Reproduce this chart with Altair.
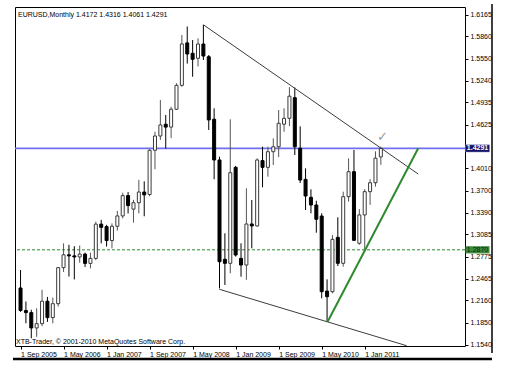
import altair as alt
import pandas as pd

# Monthly EURUSD candles, Sep 2005 .. Apr 2011 (bar index 0..67)
opens = [1.2335, 1.2020, 1.1990, 1.1775, 1.1835, 1.2150, 1.1920, 1.2115, 1.2620, 1.2800,
         1.2785, 1.2770, 1.2810, 1.2680, 1.2750, 1.3230, 1.3195, 1.3000, 1.3200, 1.3345,
         1.3630, 1.3440, 1.3530, 1.3680, 1.3645, 1.4265, 1.4465, 1.4630, 1.4590, 1.4840,
         1.5175, 1.5770, 1.5624, 1.5554, 1.5754, 1.5576, 1.4700, 1.4129, 1.2737, 1.2681,
         1.4026, 1.2750, 1.2657, 1.3232, 1.3204, 1.4120, 1.4026, 1.4245, 1.4315, 1.4630,
         1.4713, 1.5002, 1.4293, 1.3858, 1.3606, 1.3498, 1.3343, 1.2292, 1.2283, 1.3045,
         1.2681, 1.3615, 1.3965, 1.2962, 1.3359, 1.3685, 1.3810, 1.4172]
highs = [1.2587, 1.2145, 1.2030, 1.2050, 1.2310, 1.2210, 1.2200, 1.2630, 1.2960, 1.2940,
         1.2920, 1.2930, 1.2830, 1.2830, 1.3265, 1.3290, 1.3220, 1.3240, 1.3415, 1.3670,
         1.3680, 1.3570, 1.3850, 1.3830, 1.4280, 1.4525, 1.4970, 1.4760, 1.4875, 1.5205,
         1.5880, 1.6000, 1.5810, 1.5834, 1.6025, 1.5600, 1.4853, 1.4175, 1.3101, 1.4699,
         1.4045, 1.2961, 1.3732, 1.3568, 1.4152, 1.4315, 1.4315, 1.4432, 1.4829, 1.4853,
         1.5150, 1.5145, 1.4600, 1.4012, 1.3718, 1.3558, 1.3382, 1.2456, 1.3078, 1.3326,
         1.3685, 1.4152, 1.4269, 1.3440, 1.3720, 1.3860, 1.4250, 1.4316]
lows = [1.2000, 1.1840, 1.1630, 1.1650, 1.1800, 1.1860, 1.1840, 1.2075, 1.2560, 1.2495,
        1.2455, 1.2690, 1.2630, 1.2610, 1.2725, 1.2960, 1.2915, 1.2890, 1.3140, 1.3310,
        1.3380, 1.3250, 1.3380, 1.3340, 1.3620, 1.4000, 1.4410, 1.4290, 1.4435, 1.4830,
        1.5155, 1.5480, 1.5296, 1.5440, 1.5530, 1.4549, 1.3858, 1.2330, 1.2377, 1.2541,
        1.2775, 1.2493, 1.2450, 1.2891, 1.3194, 1.3746, 1.3895, 1.4059, 1.4170, 1.4525,
        1.4605, 1.4199, 1.3806, 1.3428, 1.3382, 1.3110, 1.2190, 1.1862, 1.2260, 1.2643,
        1.2634, 1.3545, 1.2994, 1.2940, 1.2870, 1.3500, 1.3755, 1.4061]
closes = [1.2020, 1.1990, 1.1775, 1.1835, 1.2150, 1.1920, 1.2115, 1.2620, 1.2800, 1.2785,
          1.2770, 1.2810, 1.2680, 1.2750, 1.3230, 1.3185, 1.3000, 1.3200, 1.3345, 1.3630,
          1.3490, 1.3530, 1.3680, 1.3640, 1.4265, 1.4465, 1.4620, 1.4590, 1.4840, 1.5175,
          1.5755, 1.5614, 1.5540, 1.5754, 1.5586, 1.4690, 1.4129, 1.2703, 1.2681, 1.3951,
          1.2797, 1.2657, 1.3232, 1.3204, 1.4129, 1.4026, 1.4245, 1.4315, 1.4643, 1.4713,
          1.5023, 1.4315, 1.3848, 1.3624, 1.3498, 1.3298, 1.2283, 1.2213, 1.3017, 1.2681,
          1.3615, 1.3965, 1.3003, 1.3359, 1.3685, 1.3810, 1.4155, 1.4291]

tick_pos = [0, 8, 16, 24, 32, 40, 48, 56, 64]
tick_labels = ["1 Sep 2005", "1 May 2006", "1 Jan 2007", "1 Sep 2007", "1 May 2008",
               "1 Jan 2009", "1 Sep 2009", "1 May 2010", "1 Jan 2011"]
price_ticks = [1.6165, 1.5860, 1.5550, 1.5240, 1.4935, 1.4625, 1.4010, 1.3700,
               1.3390, 1.3085, 1.2775, 1.2465, 1.2160, 1.1850, 1.1540]

blue_level = 1.4291
green_level = 1.2870

# drawn objects: [bar1, price1, bar2, price2]
upper_line = [34.05, 1.6021, 73.95, 1.3932]
lower_line = [36.96, 1.2317, 71.8, 1.1526]
green_line = [57.1, 1.1862, 73.95, 1.4293]
check_pos = [67.3, 1.4450]

title_text = "EURUSD,Monthly  1.4172 1.4316 1.4061 1.4291"
footer_text = "XTB-Trader, \u00a9 2001-2010 MetaQuotes Software Corp."

FONT = "Liberation Sans"
W, H = 450, 339

df = pd.DataFrame({"i": list(range(len(opens))), "open": opens, "high": highs,
                   "low": lows, "close": closes})
df["bull"] = df["close"] >= df["open"]
df["fill"] = df["bull"].map({True: "#ffffff", False: "#000000"})
df["stroke"] = df["bull"].map({True: "#3a3a3a", False: "#000000"})
df["wick"] = df["bull"].map({True: "#555555", False: "#000000"})

xscale = alt.Scale(domain=[-0.1, -0.1 + W / 5.5], nice=False, zero=False)
yscale = alt.Scale(domain=[1.1522, 1.6273], nice=False, zero=False)

label_expr = " : ".join(f"datum.value == {p} ? '{l}'" for p, l in zip(tick_pos, tick_labels)) + " : ''"

xaxis = alt.Axis(values=tick_pos, labelExpr=label_expr, labelAlign="left", labelBaseline="top",
                 labelPadding=1, tickSize=3, labelFont=FONT, labelFontSize=7, labelColor="black",
                 domain=False, grid=False, title="", tickColor="black", labelOverlap=False)
yaxis = alt.Axis(orient="right", values=price_ticks, format=".4f", labelFont=FONT, labelFontSize=7,
                 labelColor="black", tickSize=3, labelPadding=2, domain=False, grid=False,
                 title="", tickColor="black", labelOverlap=False, labelBound=False)


def X(field):
    return alt.X(field, scale=xscale, axis=xaxis)


def Y(field):
    return alt.Y(field, scale=yscale, axis=yaxis)


base = alt.Chart(df)

wicks = base.mark_rule(strokeWidth=1, clip=True).encode(
    x=X("i:Q"), y=Y("low:Q"), y2="high:Q",
    color=alt.Color("wick:N", scale=None),
)
bodies = base.mark_bar(size=3, strokeWidth=1, clip=True).encode(
    x=X("i:Q"), y=Y("open:Q"), y2="close:Q",
    fill=alt.Color("fill:N", scale=None),
    stroke=alt.Color("stroke:N", scale=None),
)

lines_df = pd.DataFrame([
    {"x": upper_line[0], "y": upper_line[1], "x2": upper_line[2], "y2": upper_line[3]},
    {"x": lower_line[0], "y": lower_line[1], "x2": lower_line[2], "y2": lower_line[3]},
])
trend = alt.Chart(lines_df).mark_rule(clip=True, strokeWidth=1, color="#3c3c3c").encode(
    x=X("x:Q"), y=Y("y:Q"), x2="x2:Q", y2="y2:Q",
)
green_df = pd.DataFrame([{"x": green_line[0], "y": green_line[1], "x2": green_line[2], "y2": green_line[3]}])
green_trend = alt.Chart(green_df).mark_rule(clip=True, strokeWidth=2, color="#2f8a2f").encode(
    x=X("x:Q"), y=Y("y:Q"), x2="x2:Q", y2="y2:Q",
)

blue_df = pd.DataFrame({"p": [blue_level], "lab": [f"{blue_level:.4f}"]})
green_df2 = pd.DataFrame({"p": [green_level], "lab": [f"{green_level:.4f}"]})

blue_rule = alt.Chart(blue_df).mark_rule(color="#6f6ff0", strokeWidth=1.6).encode(y=Y("p:Q"))
green_rule = alt.Chart(green_df2).mark_rule(color="#2f8a2f", strokeWidth=1, strokeDash=[3, 2]).encode(
    y=Y("p:Q"))

box_shape = "M-1,-0.3L1,-0.3L1,0.3L-1,0.3Z"
blue_box = alt.Chart(blue_df).mark_point(shape=box_shape, size=24 * 24, filled=True, opacity=1,
                                         color="#141464", stroke="#8888cc", strokeWidth=0.5).encode(
    x=alt.value(W + 12.5), y=Y("p:Q"))
blue_lab = alt.Chart(blue_df).mark_text(font=FONT, fontSize=7, color="white", fontWeight="bold").encode(
    x=alt.value(W + 12.5), y=Y("p:Q"), text="lab:N")
green_box = alt.Chart(green_df2).mark_point(shape=box_shape, size=24 * 24, filled=True, opacity=1,
                                            color="#3c8c3c").encode(
    x=alt.value(W + 12.5), y=Y("p:Q"))
green_lab = alt.Chart(green_df2).mark_text(font=FONT, fontSize=7, color="#102010").encode(
    x=alt.value(W + 12.5), y=Y("p:Q"), text="lab:N")

check_df = pd.DataFrame({"x": [check_pos[0]], "y": [check_pos[1]], "t": ["\u2713"]})
check = alt.Chart(check_df).mark_text(font="DejaVu Sans", fontSize=13, color="#9a9a9a").encode(
    x=X("x:Q"), y=Y("y:Q"), text="t:N")

title = alt.Chart(pd.DataFrame({"t": [title_text]})).mark_text(
    font=FONT, fontSize=7, align="left", baseline="top", color="black").encode(
    x=alt.value(3), y=alt.value(4), text="t:N")
footer = alt.Chart(pd.DataFrame({"t": [footer_text]})).mark_text(
    font=FONT, fontSize=7, align="left", baseline="bottom", color="black").encode(
    x=alt.value(1), y=alt.value(H - 1), text="t:N")

frame_right = alt.Chart(pd.DataFrame({"a": [0]})).mark_rule(color="black", strokeWidth=1.5).encode(
    x=alt.value(W + 27), y=alt.value(-3), y2=alt.value(H + 7))
frame_bottom = alt.Chart(pd.DataFrame({"a": [0]})).mark_rule(color="black", strokeWidth=2.5).encode(
    x=alt.value(-2), x2=alt.value(W + 27), y=alt.value(H + 13))

chart = alt.layer(
    blue_rule, green_rule, wicks, bodies, trend, green_trend, check,
    blue_box, blue_lab, green_box, green_lab, title, footer, frame_right, frame_bottom,
).properties(
    width=W, height=H,
    autosize=alt.AutoSizeParams(type="none"),
    padding={"left": 15, "top": 7, "right": 42, "bottom": 22},
).configure_view(
    stroke="black", strokeWidth=1
).configure_axis(labelOverlap=False)

chart.save("out.html", embed_options={"renderer": "svg", "actions": False})
